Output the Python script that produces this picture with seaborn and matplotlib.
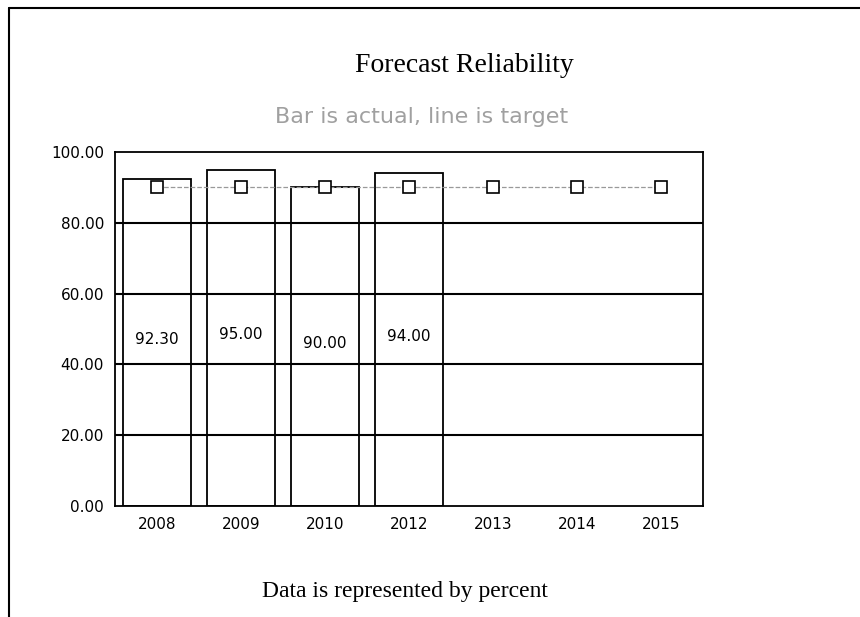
import matplotlib
matplotlib.use("Agg")
import matplotlib.pyplot as plt
import seaborn as sns
import pandas as pd
import numpy as np
from matplotlib.lines import Line2D

years = ["2008", "2009", "2010", "2012", "2013", "2014", "2015"]
actual = [92.30, 95.00, 90.00, 94.00, np.nan, np.nan, np.nan]
target = [90.0, 90.0, 90.0, 90.0, 90.0, 90.0, 90.0]
y_ticks = [0, 20, 40, 60, 80, 100]

title = "Forecast Reliability"
subtitle = "Bar is actual, line is target"
footer = "Data is represented by percent"

sns.set_theme(style="white")
plt.rcParams["font.family"] = ["DejaVu Sans"]

df = pd.DataFrame({"year": years, "actual": actual, "target": target})

fig = plt.figure(figsize=(8.6, 6.17), dpi=100)
ax = fig.add_axes([115 / 860, 1 - 506 / 617, 588 / 860, 354 / 617])

sns.barplot(data=df, x="year", y="actual", order=years, ax=ax,
            color="white", edgecolor="black", linewidth=1.3, width=0.82,
            zorder=2)
sns.pointplot(data=df, x="year", y="target", order=years, ax=ax,
              color="#999999", markers="s", linestyles="--",
              markersize=8.5, markerfacecolor="white", markeredgecolor="black",
              markeredgewidth=1.2, linewidth=0.9, zorder=5)

for i, v in enumerate(actual):
    if not np.isnan(v):
        ax.text(i, v / 2 + 1, f"{v:.2f}", ha="center", va="center",
                fontsize=11, color="black", zorder=6)

ax.set_ylim(0, 100)
ax.set_xlim(-0.5, len(years) - 0.5)
ax.set_yticks(y_ticks)
ax.set_yticklabels([f"{t:.2f}" for t in y_ticks])
ax.set_xlabel("")
ax.set_ylabel("")
for t in y_ticks[1:-1]:
    ax.axhline(t, color="black", linewidth=1.5, zorder=3)
for s in ax.spines.values():
    s.set_visible(True)
    s.set_color("black")
    s.set_linewidth(1.3)
ax.tick_params(axis="both", length=0, labelsize=11, colors="black")
ax.tick_params(axis="x", pad=8)
ax.tick_params(axis="y", pad=8)

fig.text(464 / 860, 1 - 65 / 617, title, ha="center", va="center",
         fontsize=20, family="Liberation Serif", color="black")
fig.text(422 / 860, 1 - 117 / 617, subtitle, ha="center", va="center",
         fontsize=16, color="#a0a0a0")
fig.text(405 / 860, 1 - 592 / 617, footer, ha="center", va="center",
         fontsize=17, family="Liberation Serif", color="black")

# page border (top and left)
fig.add_artist(Line2D([9 / 860, 1.0], [1 - 8 / 617, 1 - 8 / 617],
                      transform=fig.transFigure, color="black", linewidth=1.5))
fig.add_artist(Line2D([9 / 860, 9 / 860], [0, 1 - 8 / 617],
                      transform=fig.transFigure, color="black", linewidth=1.5))

fig.savefig("out.png", dpi=100, facecolor="white")
